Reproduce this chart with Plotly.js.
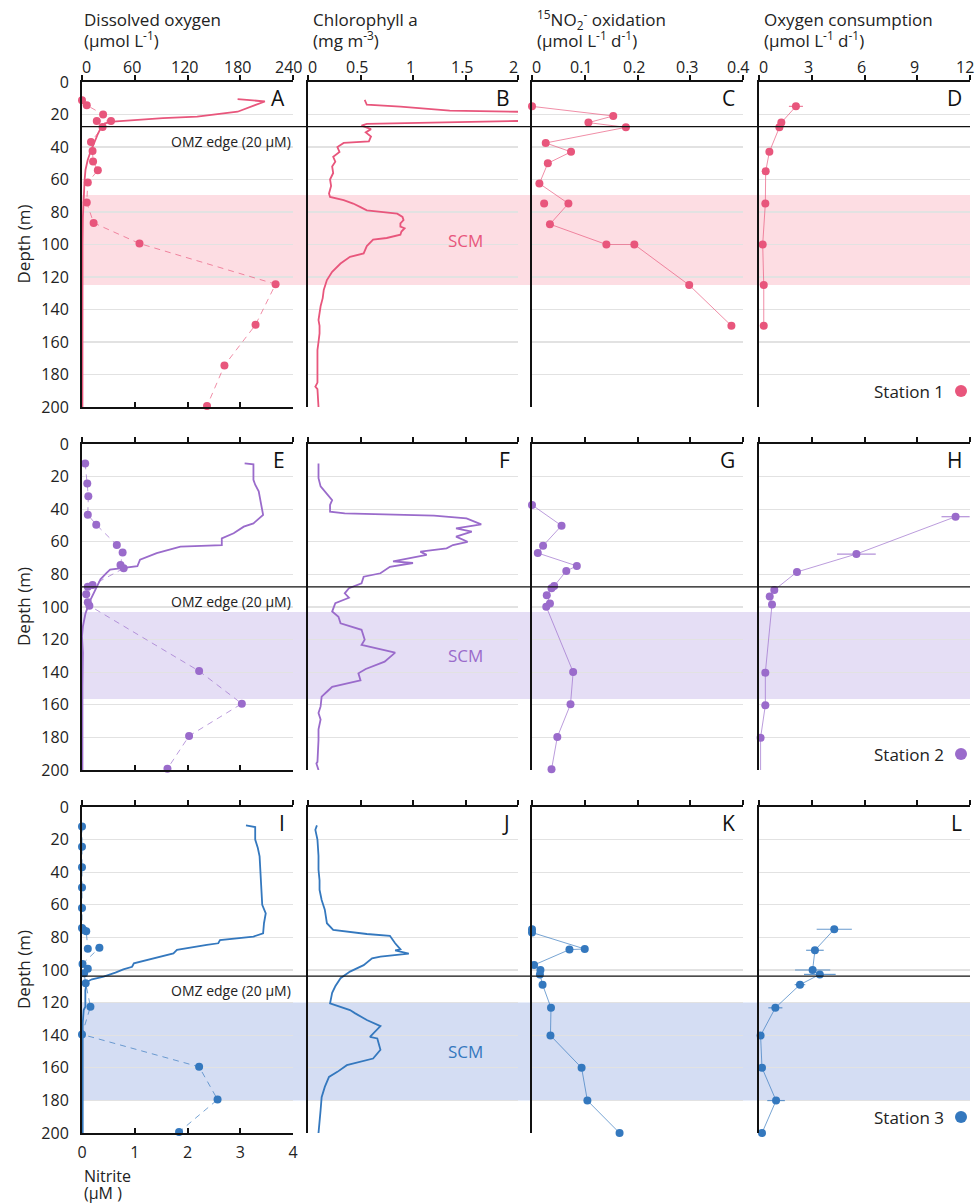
<!DOCTYPE html>
<html><head><meta charset="utf-8">
<script src="https://cdn.plot.ly/plotly-3.0.1.min.js"></script>
<style>html,body{margin:0;padding:0;background:#fff}</style>
</head><body><div id="chart" style="width:978px;height:1204px"></div>
<script>
// ---------------- DATA ----------------
// Dissolved oxygen profiles (µmol/L) vs depth (m)
const oxygenDepth1 = [10.5, 12, 18.3, 21.3, 22.2, 23.3, 24.4, 25.5, 27.5, 32, 37, 40, 44, 48, 54, 60, 65, 72, 83, 100, 130, 160, 200];
const oxygen1      = [177, 208, 177, 131, 92, 62.5, 35, 26, 22, 18, 14, 12.5, 9, 6.5, 4, 3, 2.5, 1.8, 1, 0.6, 0.5, 0.5, 0.5];
const oxygenDepth2 = [11.9, 12.5, 22, 25, 29, 34, 40.5, 43.5, 48.7, 50.7, 54.8, 57.9, 62, 63, 67, 71, 75, 77, 79, 83, 89.6, 95.7, 103.9, 112, 118, 128, 149, 200];
const oxygen2      = [185, 195, 195, 197, 201, 203, 205, 206, 195, 184, 172.5, 159, 159, 112, 85, 66, 63, 32, 28, 21, 15, 9.5, 4, 1, 0, 1, 0.5, 0.5];
const oxygenDepth3 = [11.3, 12.3, 20, 25.2, 30.3, 42.6, 54.9, 60, 65.2, 71.3, 77.5, 79.5, 81.6, 83.6, 84.6, 87.7, 89.8, 92.8, 94.9, 95.9, 98, 99.6, 101.6, 104, 105.7, 107.2, 112.3, 122.5, 124.6, 132.8, 200];
const oxygen3      = [186.5, 197, 197, 200, 202, 203, 204, 205, 209, 207, 206, 195, 157, 155, 142, 108, 104, 81.5, 66, 59, 57, 47, 38, 24.6, 11.4, 5.7, 3.8, 3.8, 1.9, 0.8, 0.8];

// Nitrite (µM) vs depth
const nitriteDepth1 = [11.3, 14.3, 20, 24, 24, 27.7, 36.9, 42.4, 49, 54.3, 61.9, 74.2, 86.7, 99.4, 124.4, 149.4, 174.4, 199.4];
const nitrite1      = [0, 0.09, 0.4, 0.28, 0.55, 0.39, 0.17, 0.2, 0.21, 0.3, 0.11, 0.09, 0.22, 1.09, 3.67, 3.29, 2.7, 2.37];
const nitriteDepth2 = [11.9, 24.3, 32, 43.4, 49.5, 62, 66.5, 74.2, 76.3, 86.5, 87.5, 92.2, 97.1, 99.2, 139.3, 159.3, 179.1, 199.2];
const nitrite2      = [0.06, 0.1, 0.12, 0.11, 0.27, 0.66, 0.77, 0.73, 0.79, 0.2, 0.11, 0.08, 0.11, 0.14, 2.22, 3.03, 2.03, 1.62];
const nitriteDepth3 = [11.9, 24.4, 36.9, 49.4, 61.9, 74.2, 75.4, 76.2, 86.9, 86.3, 96.3, 99.2, 102, 108.2, 122.5, 139.5, 159.4, 179.5, 199.4];
const nitrite3      = [0, 0, 0, 0, 0, 0, 0.03, 0.08, 0.11, 0.33, 0.01, 0.11, 0.04, 0.07, 0.16, 0, 2.22, 2.57, 1.84];

// Chlorophyll a (mg/m3) vs depth
const chlDepth1 = [11, 14, 15.2, 17.6, 18.3, 21, 24, 25, 25.8, 26.9, 29, 31, 33.5, 36.6, 37.5, 40, 43, 46, 49, 52, 56, 60, 64, 68.6, 70.7, 72.7, 74.8, 77, 79, 81, 83, 85, 87, 89, 90, 92, 94, 96, 97, 101, 105.5, 107.6, 111.7, 116.8, 121.9, 128, 133, 138, 146.5, 150, 154.7, 160, 165, 175, 185, 187.5, 189, 200];
const chl1      = [0.54, 0.56, 0.88, 1.35, 2.0, 3.5, 2.0, 1.19, 0.56, 0.51, 0.6, 0.55, 0.6, 0.58, 0.34, 0.28, 0.3, 0.24, 0.26, 0.23, 0.24, 0.21, 0.22, 0.2, 0.21, 0.34, 0.43, 0.5, 0.56, 0.85, 0.9, 0.91, 0.88, 0.88, 0.92, 0.89, 0.88, 0.75, 0.62, 0.56, 0.53, 0.4, 0.31, 0.23, 0.18, 0.15, 0.14, 0.12, 0.1, 0.11, 0.11, 0.1, 0.09, 0.09, 0.09, 0.07, 0.09, 0.1];
const chlDepth2 = [11.9, 21, 26, 30.3, 34.4, 37.4, 41.5, 42.5, 44, 45.6, 49.3, 51.7, 53.8, 56.8, 60, 62, 64, 66, 68, 72, 73, 75.3, 79.3, 81.4, 85.5, 88.5, 91.6, 94.3, 97.7, 102.8, 106, 110, 114, 120, 123.3, 128, 133.5, 138, 140.7, 145, 149, 152, 155, 161, 165, 169, 175, 181.6, 195, 196, 200];
const chl2      = [0.1, 0.1, 0.12, 0.18, 0.23, 0.21, 0.21, 0.35, 1.2, 1.51, 1.65, 1.41, 1.56, 1.41, 1.52, 1.38, 1.32, 1.07, 1.13, 0.81, 1.0, 0.78, 0.69, 0.53, 0.51, 0.39, 0.35, 0.39, 0.26, 0.23, 0.29, 0.31, 0.51, 0.54, 0.51, 0.83, 0.73, 0.55, 0.48, 0.5, 0.23, 0.18, 0.13, 0.12, 0.1, 0.12, 0.1, 0.1, 0.09, 0.08, 0.1];
const chlDepth3 = [11.3, 14, 20, 30, 38.5, 45, 50.8, 57, 63, 71.3, 75.4, 77.9, 79, 83.6, 87.3, 88, 90, 91.8, 92.8, 97, 101, 105, 110, 114, 120.5, 124.6, 126.6, 130.7, 134.4, 141, 142, 149, 154.3, 158.4, 162.5, 165.6, 171.7, 178, 186, 200];
const chl3      = [0.085, 0.07, 0.09, 0.1, 0.1, 0.11, 0.11, 0.13, 0.16, 0.18, 0.24, 0.56, 0.78, 0.83, 0.88, 0.83, 0.96, 0.69, 0.61, 0.53, 0.4, 0.31, 0.26, 0.23, 0.21, 0.4, 0.45, 0.56, 0.69, 0.59, 0.66, 0.69, 0.62, 0.37, 0.28, 0.2, 0.16, 0.13, 0.12, 0.1];

// 15NO2- oxidation (µmol/L/d) vs depth
const oxDepth1 = [15, 20.9, 25, 27.9, 37.5, 43, 50, 62.5, 74.8, 87.5, 100, 100, 125, 150];
const ox1      = [0, 0.154, 0.107, 0.178, 0.026, 0.074, 0.03, 0.014, 0.069, 0.034, 0.141, 0.194, 0.298, 0.378];
const oxExtraDepth1 = [74.8];
const oxExtra1      = [0.023];
const oxDepth2 = [37.4, 50.1, 62.4, 66.9, 74.8, 77.9, 87.1, 88.5, 92.8, 97.8, 99.8, 139.9, 159.7, 179.8, 199.6];
const ox2      = [0, 0.056, 0.021, 0.011, 0.085, 0.065, 0.042, 0.037, 0.028, 0.034, 0.027, 0.078, 0.073, 0.048, 0.037];
const oxDepth3 = [75, 77, 87.1, 87.5, 96.9, 100, 102.7, 109, 123.2, 140.2, 160, 180.1, 200];
const ox3      = [0, 0, 0.1, 0.071, 0.004, 0.016, 0.015, 0.02, 0.036, 0.035, 0.094, 0.105, 0.166];

// Oxygen consumption (µmol/L/d) vs depth, with error
const ocDepth1 = [15, 25, 27.9, 43, 55, 74.8, 100, 125, 150];
const oc1      = [2.1, 1.27, 1.16, 0.59, 0.38, 0.36, 0.21, 0.27, 0.27];
const ocErr1   = [0.4, 0.1, 0.1, 0.1, 0, 0, 0, 0, 0];
const ocDepth2 = [44.6, 67.5, 78.5, 89.6, 93.5, 98.4, 140.3, 160.3, 180.2, 200.2];
const oc2      = [11.18, 5.54, 2.16, 0.87, 0.61, 0.74, 0.36, 0.36, 0.09, 0.09];
const ocErr2   = [0.8, 1.1, 0.1, 0.1, 0, 0, 0.1, 0.2, 0, 0];
const ocDepth3 = [75, 87.9, 100, 102.7, 109, 123.2, 140.2, 160, 180.1, 200];
const oc3      = [4.28, 3.18, 3.05, 3.46, 2.33, 0.93, 0.09, 0.17, 0.97, 0.17];
const ocErr3   = [1.0, 0.5, 1.0, 0.9, 0.3, 0.4, 0, 0, 0.5, 0];

// OMZ edge depths and SCM bands
const omzDepth = [27.5, 87.7, 103.7];
const scmTop    = [69.5, 103, 120];
const scmBottom = [125, 156.5, 180];

// Labels
const stations = ['Station 1', 'Station 2', 'Station 3'];
const panelLetters = ['A','B','C','D','E','F','G','H','I','J','K','L'];
const oxygenTicks = [0, 60, 120, 180, 240];
const chlTicks = [0, 0.5, 1, 1.5, 2];
const oxidTicks = [0, 0.1, 0.2, 0.3, 0.4];
const consTicks = [0, 3, 6, 9, 12];
const nitriteTicks = [0, 1, 2, 3, 4];
const depthTicks = [0, 20, 40, 60, 80, 100, 120, 140, 160, 180, 200];

// ---------------- STYLE / LAYOUT ----------------
const W = 978, H = 1204;
const FONT = 'Open Sans, Noto Sans, sans-serif';
const colors = ['#e8567c', '#9a6bcb', '#3478be'];
const lineAlpha = ['rgba(232,86,124,0.75)', 'rgba(154,107,203,0.75)', 'rgba(52,120,190,0.75)'];
const bandColors = ['#fddde3', '#e5def5', '#d4ddf3'];
const colPx = [[82, 293], [308, 518], [532, 743], [759, 970]];
const rowPx = [[82, 407], [444, 770], [807, 1133]];
const px = v => v / W;
const py = v => 1 - v / H;
const aid = n => (n === 1 ? '' : String(n));

const oxygenD = [oxygenDepth1, oxygenDepth2, oxygenDepth3], oxygenV = [oxygen1, oxygen2, oxygen3];
const nitD = [nitriteDepth1, nitriteDepth2, nitriteDepth3], nitV = [nitrite1, nitrite2, nitrite3];
const chlD = [chlDepth1, chlDepth2, chlDepth3], chlV = [chl1, chl2, chl3];
const oxD = [oxDepth1, oxDepth2, oxDepth3], oxV = [ox1, ox2, ox3];
const ocD = [ocDepth1, ocDepth2, ocDepth3], ocV = [oc1, oc2, oc3], ocE = [ocErr1, ocErr2, ocErr3];
const colTicks = [oxygenTicks, chlTicks, oxidTicks, consTicks];

const layout = {
  width: W, height: H,
  margin: {l: 0, r: 0, t: 0, b: 0},
  paper_bgcolor: '#fff', plot_bgcolor: 'rgba(0,0,0,0)',
  showlegend: false,
  font: {family: FONT, size: 16, color: '#222'},
  shapes: [], annotations: []
};
const traces = [];
const tickFont = {family: FONT, size: 16, color: '#222'};

for (let r = 0; r < 3; r++) {
  for (let c = 0; c < 4; c++) {
    const n = r * 4 + c + 1;
    const ticks = colTicks[c];
    layout['xaxis' + aid(n)] = {
      domain: [px(colPx[c][0]), px(colPx[c][1])],
      anchor: 'y' + aid(n), side: 'top',
      range: [ticks[0], ticks[ticks.length - 1]],
      tickvals: ticks,
      showline: true, linecolor: '#111', linewidth: 2,
      ticks: 'outside', ticklen: 5, tickwidth: 2, tickcolor: '#111',
      showticklabels: false,
      showgrid: false, zeroline: false, fixedrange: true
    };
    // top tick labels (first row only), placed on the axis scale
    if (r === 0) {
      ticks.forEach((t, i) => {
        const shift = i === 0 ? 4 : (i === ticks.length - 1 ? -5 : -3);
        layout.annotations.push({
          xref: 'x' + aid(n), yref: 'paper', x: t, y: py(67), xshift: shift,
          xanchor: 'center', yanchor: 'middle', showarrow: false,
          text: String(t), font: tickFont
        });
      });
    }
    layout['yaxis' + aid(n)] = {
      domain: [py(rowPx[r][1]), py(rowPx[r][0])],
      anchor: 'x' + aid(n),
      range: [200, 0],
      tickvals: depthTicks,
      showline: true, linecolor: '#111', linewidth: 2,
      ticks: '', showticklabels: c === 0, tickfont: tickFont, ticklabelstandoff: 8,
      ticklabeloverflow: 'allow',
      showgrid: true, gridcolor: '#e2e2e2', gridwidth: 1.2,
      zeroline: false, fixedrange: true
    };
    layout.annotations.push({
      xref: 'paper', yref: 'paper', x: px(colPx[c][1] - 6), y: py(rowPx[r][0] + 16),
      xanchor: 'right', yanchor: 'middle', showarrow: false,
      text: panelLetters[n - 1], font: {family: FONT, size: 21, color: '#111'}
    });
  }
  // nitrite bottom axis (col 1)
  const nb = 13 + r;
  layout['xaxis' + nb] = {
    overlaying: 'x' + aid(r * 4 + 1), anchor: 'y' + aid(r * 4 + 1), side: 'bottom',
    range: [0, 4], tickvals: nitriteTicks,
    showline: true, linecolor: '#111', linewidth: 2,
    ticks: 'inside', ticklen: 5, tickwidth: 2, tickcolor: '#111',
    showticklabels: r === 2, tickfont: tickFont, ticklabelstandoff: 4,
    ticklabeloverflow: 'allow',
    showgrid: false, zeroline: false, fixedrange: true
  };

  const yRef = 'y' + aid(r * 4 + 1);
  // SCM band
  layout.shapes.push({
    type: 'rect', xref: 'paper', yref: yRef, x0: px(82), x1: px(970),
    y0: scmTop[r], y1: scmBottom[r], fillcolor: bandColors[r], line: {width: 0}, layer: 'below'
  });
  // OMZ line
  layout.shapes.push({
    type: 'line', xref: 'paper', yref: yRef, x0: px(82), x1: px(970),
    y0: omzDepth[r], y1: omzDepth[r], line: {color: '#111', width: 1.2}, layer: 'above'
  });
  layout.annotations.push({
    xref: 'paper', yref: yRef, x: px(293), y: omzDepth[r], yshift: -3,
    xanchor: 'right', yanchor: 'top', showarrow: false,
    text: 'OMZ edge (20 µM)', font: {family: FONT, size: 14, color: '#222'}
  });
  layout.annotations.push({
    xref: 'paper', yref: yRef, x: px(465), y: (scmTop[r] + scmBottom[r]) / 2,
    xanchor: 'center', yanchor: 'middle', showarrow: false,
    text: 'SCM', font: {family: FONT, size: 17, color: colors[r]}
  });
  // Depth title
  layout.annotations.push({
    xref: 'paper', yref: 'paper', x: px(23), y: py((rowPx[r][0] + rowPx[r][1]) / 2),
    xanchor: 'center', yanchor: 'middle', textangle: -90, showarrow: false,
    text: 'Depth (m)', font: {family: FONT, size: 17, color: '#222'}
  });
  // Station legend
  layout.annotations.push({
    xref: 'paper', yref: 'paper', x: px(946), y: py(rowPx[r][1] - 16),
    xanchor: 'right', yanchor: 'middle', showarrow: false,
    text: stations[r], font: {family: FONT, size: 17, color: '#222'}
  });
  layout.shapes.push({
    type: 'circle', xref: 'paper', yref: 'paper',
    x0: px(955), x1: px(967), y0: py(rowPx[r][1] - 10), y1: py(rowPx[r][1] - 22),
    fillcolor: colors[r], line: {width: 0}
  });

  const b = r * 4 + 1;
  const col = colors[r];
  const mk = {color: col, size: 8};
  traces.push({type: 'scatter', mode: 'lines', x: oxygenV[r], y: oxygenD[r],
    xaxis: 'x' + aid(b), yaxis: 'y' + aid(b), line: {color: col, width: 1.8}});
  traces.push({type: 'scatter', mode: 'lines+markers', x: nitV[r], y: nitD[r],
    xaxis: 'x' + nb, yaxis: 'y' + aid(b), line: {color: lineAlpha[r], width: 0.9, dash: '6px,5px'}, marker: mk, cliponaxis: false});
  traces.push({type: 'scatter', mode: 'lines', x: chlV[r], y: chlD[r],
    xaxis: 'x' + (b + 1), yaxis: 'y' + (b + 1), line: {color: col, width: 1.8}});
  traces.push({type: 'scatter', mode: 'lines+markers', x: oxV[r], y: oxD[r],
    xaxis: 'x' + (b + 2), yaxis: 'y' + (b + 2), line: {color: lineAlpha[r], width: 0.9}, marker: mk, cliponaxis: false});
  traces.push({type: 'scatter', mode: 'lines+markers', x: ocV[r], y: ocD[r],
    xaxis: 'x' + (b + 3), yaxis: 'y' + (b + 3), line: {color: lineAlpha[r], width: 0.9}, marker: mk, cliponaxis: false,
    error_x: {type: 'data', array: ocE[r], visible: true, color: lineAlpha[r], thickness: 1.2, width: 0}});
}
// unconnected replicate point (panel C)
traces.push({type: 'scatter', mode: 'markers', x: oxExtra1, y: oxExtraDepth1,
  xaxis: 'x3', yaxis: 'y3', marker: {color: colors[0], size: 8}, cliponaxis: false});

// Column titles
const titles = [
  [82, 'Dissolved oxygen', '(µmol L<sup>-1</sup>)'],
  [311, 'Chlorophyll a', '(mg m<sup>-3</sup>)'],
  [535, '<sup>15</sup>NO<sub>2</sub><sup>-</sup> oxidation', '(µmol L<sup>-1</sup> d<sup>-1</sup>)'],
  [762, 'Oxygen consumption', '(µmol L<sup>-1</sup> d<sup>-1</sup>)']
];
titles.forEach(t => {
  layout.annotations.push({xref: 'paper', yref: 'paper', x: px(t[0]), y: py(20), xanchor: 'left', yanchor: 'middle',
    showarrow: false, text: t[1], font: {family: FONT, size: 17, color: '#222'}});
  layout.annotations.push({xref: 'paper', yref: 'paper', x: px(t[0]), y: py(40), xanchor: 'left', yanchor: 'middle',
    showarrow: false, text: t[2], font: {family: FONT, size: 17, color: '#222'}});
});
layout.annotations.push({xref: 'paper', yref: 'paper', x: px(82), y: py(1176), xanchor: 'left', yanchor: 'middle',
  showarrow: false, text: 'Nitrite', font: {family: FONT, size: 16, color: '#222'}});
layout.annotations.push({xref: 'paper', yref: 'paper', x: px(82), y: py(1193), xanchor: 'left', yanchor: 'middle',
  showarrow: false, text: '(µM )', font: {family: FONT, size: 16, color: '#222'}});

Plotly.newPlot('chart', traces, layout, {staticPlot: true, displayModeBar: false});
</script>
</body></html>
